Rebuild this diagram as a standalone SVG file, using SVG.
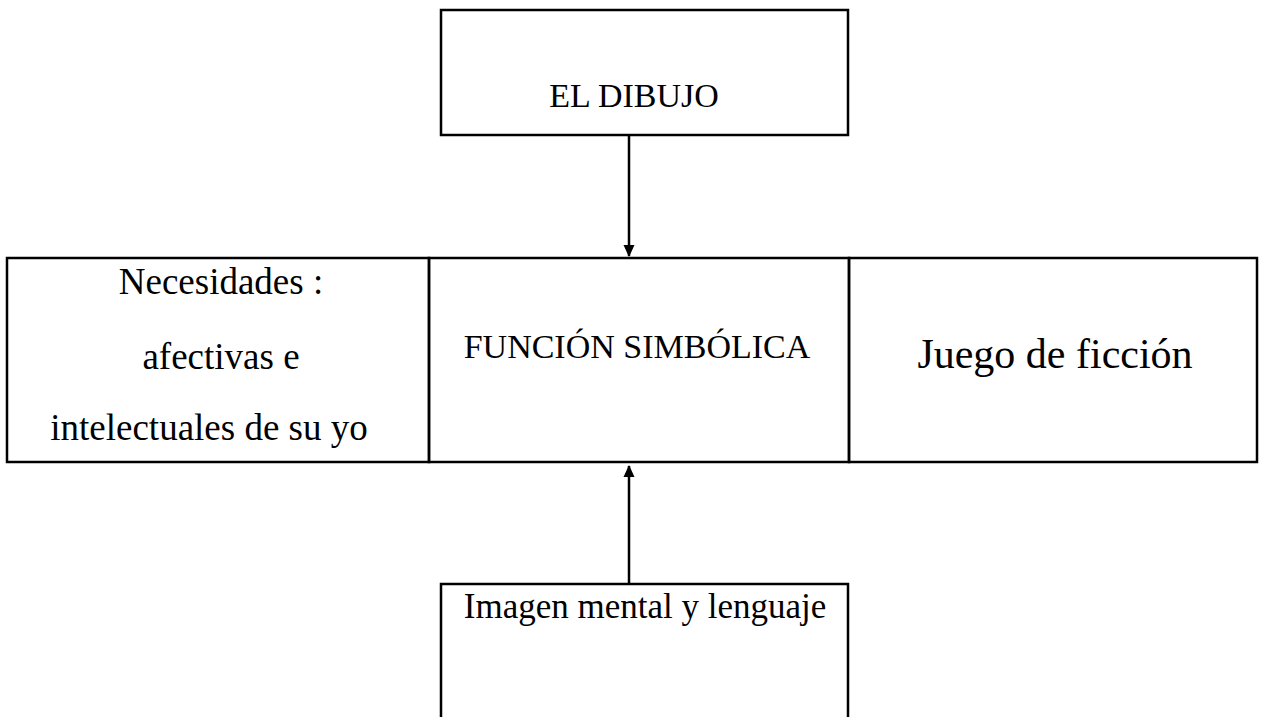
<svg xmlns="http://www.w3.org/2000/svg" width="1264" height="717" viewBox="0 0 1264 717">
<style>
.box{fill:none;stroke:#000;stroke-width:2.5}
.t{font-family:"Liberation Serif","Times New Roman",serif;fill:#000;text-anchor:middle}
.c{stroke:#000;stroke-width:2.5;fill:none}
</style>
<defs>
<marker id="ah" markerWidth="12" markerHeight="12" refX="11" refY="6" orient="auto" markerUnits="userSpaceOnUse">
<path d="M0,0.5 L12,6 L0,11.5 Z" fill="#000"/>
</marker>
</defs>
<rect width="1264" height="717" fill="#fff"/>
<g id="dibujo">
<rect class="box" x="441" y="10" width="407" height="125"/>
<text class="t" x="634" y="107" font-size="34">EL DIBUJO</text>
</g>
<g id="necesidades">
<rect class="box" x="7" y="258" width="422" height="204"/>
<text class="t" x="221" y="294" font-size="37">Necesidades :</text>
<text class="t" x="221" y="369" font-size="37">afectivas e</text>
<text class="t" x="209" y="440" font-size="37">intelectuales de su yo</text>
</g>
<g id="funcion">
<rect class="box" x="429" y="258" width="420" height="204"/>
<text class="t" x="637" y="358" font-size="34">FUNCIÓN SIMBÓLICA</text>
</g>
<g id="juego">
<rect class="box" x="849" y="258" width="408" height="204"/>
<text class="t" x="1055" y="368" font-size="42">Juego de ficción</text>
</g>
<g id="imagen">
<path class="box" d="M441,720 L441,584 L848,584 L848,720"/>
<text class="t" x="645" y="618" font-size="35">Imagen mental y lenguaje</text>
</g>
<g id="connectors">
<line class="c" x1="629" y1="135" x2="629" y2="256" marker-end="url(#ah)"/>
<line class="c" x1="629" y1="584" x2="629" y2="466" marker-end="url(#ah)"/>
</g>
</svg>
